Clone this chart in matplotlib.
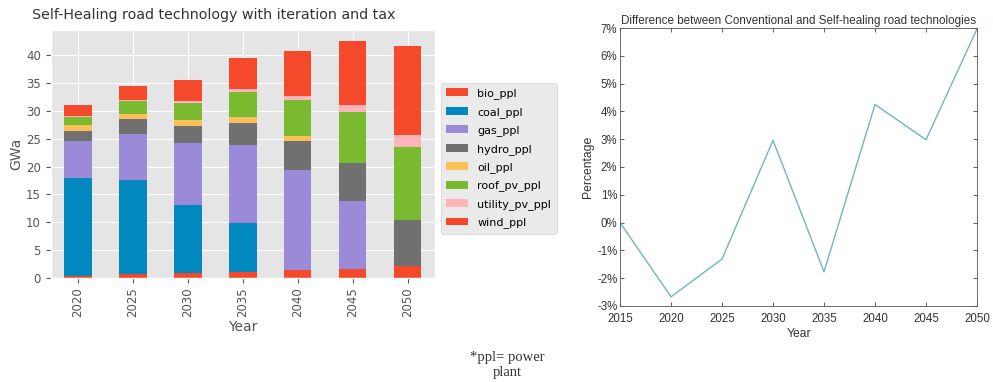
import matplotlib
matplotlib.use("Agg")
import matplotlib.pyplot as plt
import numpy as np

years = ["2020", "2025", "2030", "2035", "2040", "2045", "2050"]
series_names = ["bio_ppl", "coal_ppl", "gas_ppl", "hydro_ppl", "oil_ppl",
                "roof_pv_ppl", "utility_pv_ppl", "wind_ppl"]
bio_ppl = [0.4, 0.65, 0.9, 1.1, 1.4, 1.7, 2.15]
coal_ppl = [17.5, 16.85, 12.2, 8.75, 0.0, 0.0, 0.0]
gas_ppl = [6.7, 8.4, 11.2, 14.0, 17.9, 12.2, 0.0]
hydro_ppl = [1.8, 2.7, 3.0, 4.05, 5.3, 6.8, 8.25]
oil_ppl = [1.0, 0.9, 1.0, 1.0, 0.9, 0.0, 0.0]
roof_pv_ppl = [1.5, 2.2, 3.2, 4.4, 6.4, 9.1, 13.2]
utility_pv_ppl = [0.2, 0.2, 0.2, 0.6, 0.7, 1.2, 2.0]
wind_ppl = [1.9, 2.6, 3.8, 5.6, 8.1, 11.6, 16.1]

diff_years = [2015, 2020, 2025, 2030, 2035, 2040, 2045, 2050]
diff_pct = [0.0, -2.67, -1.31, 2.96, -1.77, 4.25, 2.98, 6.97]

colors = ["#F5492C", "#0088BF", "#9B8AD8", "#707070", "#FDBF5A",
          "#79BA30", "#FFB4BA", "#F5492C"]

fig = plt.figure(figsize=(9.93, 3.82), dpi=100)

# ---- left: stacked bars (ggplot look) ----
with plt.style.context("ggplot"):
    ax1 = fig.add_axes([0.0509, 0.2723, 0.3872, 0.6492])
    data = [bio_ppl, coal_ppl, gas_ppl, hydro_ppl, oil_ppl,
            roof_pv_ppl, utility_pv_ppl, wind_ppl]
    x = np.arange(len(years))
    bottom = np.zeros(len(years))
    for name, vals, c in zip(series_names, data, colors):
        v = np.array(vals)
        ax1.bar(x, v, width=0.5, bottom=bottom, color=c, label=name)
        bottom += v
    ax1.set_xlim(-0.5, len(years) - 0.5)
    ax1.set_ylim(0, bottom.max() * 1.045)
    ax1.set_xticks(x)
    ax1.set_xticklabels(years, rotation=90, fontsize=8.5, color="#555555")
    ax1.set_yticks(np.arange(0, 45, 5))
    ax1.tick_params(axis="y", labelsize=8.5, labelcolor="#555555")
    ax1.set_xlabel("Year", fontsize=10, color="#555555", labelpad=2)
    ax1.set_ylabel("GWa", fontsize=10, color="#555555", labelpad=2)
    ax1.set_title("Self-Healing road technology with iteration and tax",
                  fontsize=10.3, color="#333333", loc="left", x=-0.048, pad=8)
    ax1.legend(loc="upper left", bbox_to_anchor=(1.0, 0.81), fontsize=8,
               frameon=True, handlelength=2.0, labelspacing=0.68,
               borderpad=0.5)

# ---- right: line chart (MATLAB look) ----
ax2 = fig.add_axes([0.6244, 0.199, 0.3595, 0.7277])
ax2.plot(diff_years, diff_pct, color="#6FB5C4", linewidth=1.0)
ax2.set_xlim(2015, 2050)
ax2.set_ylim(-3, 7)
ax2.set_xticks(diff_years)
ax2.set_yticks(np.arange(-3, 8, 1))
ax2.set_yticklabels([f"{v}%" for v in range(-3, 8)])
mfont = ["Liberation Sans", "DejaVu Sans"]
for lab in ax2.get_xticklabels() + ax2.get_yticklabels():
    lab.set_family(mfont)
    lab.set_fontsize(8.3)
    lab.set_color("#333333")
ax2.tick_params(direction="in", length=3, top=True, right=True, width=0.6,
                color="#444444")
ax2.tick_params(axis="x", pad=5)
ax2.tick_params(axis="y", pad=2)
for s in ax2.spines.values():
    s.set_linewidth(0.6)
    s.set_color("#555555")
ax2.set_xlabel("Year", fontsize=8.7, family=mfont, color="#333333", labelpad=2)
ax2.set_ylabel("Percentage", fontsize=8.7, family=mfont, color="#333333", labelpad=2)
ax2.set_title("Difference between Conventional and Self-healing road technologies",
              fontsize=8.4, family=mfont, color="#333333", pad=3)

# footnote
fig.text(0.511, 0.045, "*ppl= power\nplant", ha="center", va="center",
         fontsize=10.5, family=["Liberation Serif", "DejaVu Serif"],
         color="#333333", linespacing=1.2)

fig.savefig("out.png", dpi=100)
